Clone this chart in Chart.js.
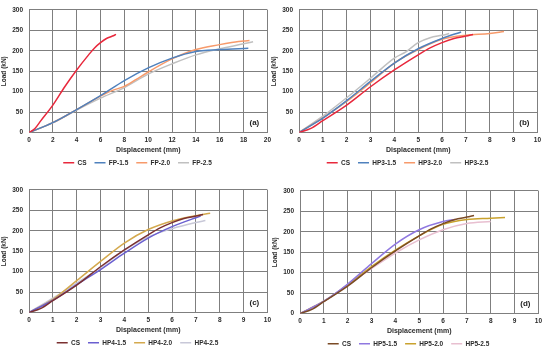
<!DOCTYPE html>
<html>
<head>
<meta charset="utf-8">
<script src="https://cdn.jsdelivr.net/npm/chart.js@4.4.1/dist/chart.umd.min.js"></script>
<style>
  html, body { margin: 0; padding: 0; background: #fff; }
  #wrap { position: relative; width: 550px; height: 352px; }
  .panel { position: absolute; width: 275px; height: 176px; }
</style>
</head>
<body>
<div id="wrap">
  <div class="panel" style="left:0;top:0"><canvas id="chartA" width="275" height="176"></canvas></div>
  <div class="panel" style="left:270px;top:0"><canvas id="chartB" width="275" height="176"></canvas></div>
  <div class="panel" style="left:0;top:180px"><canvas id="chartC" width="275" height="176"></canvas></div>
  <div class="panel" style="left:271px;top:181px"><canvas id="chartD" width="275" height="176"></canvas></div>
</div>
<script>
// tick labels
const loadTicks = [0, 50, 100, 150, 200, 250, 300];

// control specimen (same in all panels)
const csDisp = [0, 0.5, 1, 2, 3, 4, 5, 5.5, 6, 6.5, 7, 7.3];
const csLoad = [0, 10, 29, 67, 112, 153, 190, 207, 220, 230, 236, 240];

// (a) FP
const fp15Disp = [0, 2, 4, 6, 8, 10, 12, 14, 15, 16, 18.4];
const fp15Load = [0, 24, 56, 90, 127, 158, 182, 198, 201, 203, 206];
const fp20Disp = [0, 2, 4, 6, 7, 8, 9, 10, 12, 14, 16, 17, 18, 18.5];
const fp20Load = [0, 24, 56, 89, 103, 113, 130, 148, 180, 203, 215, 220, 224, 225];
const fp25Disp = [0, 2, 4, 6, 8, 10, 12, 14, 16, 18, 18.8];
const fp25Load = [0, 24, 55, 84, 110, 143, 168, 190, 205, 217, 222];

// (b) HP3
const hp315Disp = [0, 1, 2, 3, 4, 5, 6, 6.8];
const hp315Load = [0, 35, 78, 125, 170, 205, 230, 246];
const hp320Disp = [0, 1, 2, 3, 4, 5, 6, 7, 8, 8.6];
const hp320Load = [0, 36, 76, 122, 170, 203, 228, 238, 242, 247];
const hp325Disp = [0, 1, 2, 3, 4, 4.5, 5, 5.5, 6, 6.3];
const hp325Load = [0, 40, 85, 133, 182, 198, 220, 232, 238, 242];

// (c) HP4
const hp415Disp = [0, 1, 2, 3, 4, 5, 6, 7, 7.2];
const hp415Load = [0, 30, 68, 105, 145, 182, 210, 232, 236];
const hp420Disp = [0, 1, 2, 3, 4, 5, 6, 7, 7.6];
const hp420Load = [0, 32, 78, 125, 170, 203, 224, 237, 243];
const hp425Disp = [0, 1, 2, 3, 4, 5, 6, 7, 7.4];
const hp425Load = [0, 35, 72, 110, 152, 185, 205, 220, 225];

// (d) HP5
const hp515Disp = [0, 1, 2, 3, 4, 5, 6, 6.5];
const hp515Load = [0, 30, 72, 122, 170, 205, 225, 230];
const hp520Disp = [0, 1, 2, 3, 4, 5, 6, 7, 8, 8.6];
const hp520Load = [0, 30, 70, 115, 155, 190, 218, 230, 233, 235];
const hp525Disp = [0, 1, 2, 3, 4, 5, 6, 7, 8];
const hp525Load = [0, 30, 70, 110, 148, 180, 205, 220, 225];

const textCol = '#2b2b2b';
const gridCol = '#7f7f7f';
const fontFam = '"Liberation Sans", Arial, sans-serif';

function pts(xs, ys) {
    return xs.map((x, i) => ({ x: x, y: ys[i] }));
}

function serie(label, xs, ys, color) {
    return {
        label: label,
        data: pts(xs, ys),
        borderColor: color,
        backgroundColor: color,
        borderWidth: 1.5,
        pointRadius: 0,
        cubicInterpolationMode: 'monotone',
        fill: false
    };
}

// panel letter in the lower right corner of the plot
const panelTag = {
    id: 'panelTag',
    afterDraw(chart, args, opts) {
        const { ctx, chartArea } = chart;
        ctx.save();
        ctx.font = 'bold 8px ' + fontFam;
        ctx.fillStyle = '#222';
        ctx.textAlign = 'center';
        ctx.textBaseline = 'middle';
        ctx.fillText(opts.text, chartArea.right - 13, chartArea.bottom - 10);
        ctx.restore();
    }
};

function makeChart(id, tag, xMax, xStep, datasets) {
    new Chart(document.getElementById(id), {
        type: 'line',
        data: { datasets: datasets },
        plugins: [panelTag],
        options: {
            responsive: false,
            animation: false,
            layout: { padding: { top: 9, right: 0, left: 0, bottom: 0 } },
            plugins: {
                panelTag: { text: tag },
                tooltip: { enabled: false },
                legend: {
                    position: 'bottom',
                    labels: {
                        usePointStyle: true,
                        pointStyle: 'line',
                        pointStyleWidth: 11,
                        boxHeight: 6,
                        padding: 8,
                        color: textCol,
                        font: { family: fontFam, size: 6.5, weight: 'bold' }
                    }
                }
            },
            scales: {
                x: {
                    type: 'linear',
                    min: 0,
                    max: xMax,
                    afterFit: (s) => { s.height = 19; },
                    grid: { color: gridCol, lineWidth: 1, drawTicks: false },
                    border: { color: gridCol, width: 1 },
                    ticks: {
                        stepSize: xStep,
                        padding: 4,
                        maxRotation: 0,
                        color: textCol,
                        font: { family: fontFam, size: 6.5, weight: 'bold' }
                    },
                    title: {
                        display: true,
                        text: 'Displacement (mm)',
                        padding: { top: 0, bottom: -3 },
                        color: textCol,
                        font: { family: fontFam, size: 7, weight: 'bold' }
                    }
                },
                y: {
                    min: 0,
                    max: 300,
                    afterFit: (s) => { s.width = 29; },
                    afterBuildTicks: (s) => { s.ticks = loadTicks.map(v => ({ value: v })); },
                    grid: { color: gridCol, lineWidth: 1, drawTicks: false },
                    border: { color: gridCol, width: 1 },
                    ticks: {
                        padding: 6,
                        color: textCol,
                        font: { family: fontFam, size: 6.5, weight: 'bold' }
                    },
                    title: {
                        display: true,
                        text: 'Load (kN)',
                        padding: { top: 0, bottom: 0 },
                        color: textCol,
                        font: { family: fontFam, size: 6.5, weight: 'bold' }
                    }
                }
            }
        }
    });
}

makeChart('chartA', '(a)', 20, 2, [
    serie('CS', csDisp, csLoad, '#e8283c'),
    serie('FP-1.5', fp15Disp, fp15Load, '#4f81bd'),
    serie('FP-2.0', fp20Disp, fp20Load, '#f79a6b'),
    serie('FP-2.5', fp25Disp, fp25Load, '#c0c0c0')
]);

makeChart('chartB', '(b)', 10, 1, [
    serie('CS', csDisp, csLoad, '#e8283c'),
    serie('HP3-1.5', hp315Disp, hp315Load, '#4f81bd'),
    serie('HP3-2.0', hp320Disp, hp320Load, '#f79a6b'),
    serie('HP3-2.5', hp325Disp, hp325Load, '#c0c0c0')
]);

makeChart('chartC', '(c)', 10, 1, [
    serie('CS', csDisp, csLoad, '#7b3030'),
    serie('HP4-1.5', hp415Disp, hp415Load, '#6a5fd0'),
    serie('HP4-2.0', hp420Disp, hp420Load, '#d4a94e'),
    serie('HP4-2.5', hp425Disp, hp425Load, '#c8c8d8')
]);

makeChart('chartD', '(d)', 10, 1, [
    serie('CS', csDisp, csLoad, '#7a4a25'),
    serie('HP5-1.5', hp515Disp, hp515Load, '#8f78e0'),
    serie('HP5-2.0', hp520Disp, hp520Load, '#c9a22e'),
    serie('HP5-2.5', hp525Disp, hp525Load, '#e8bfd0')
]);
</script>
</body>
</html>
